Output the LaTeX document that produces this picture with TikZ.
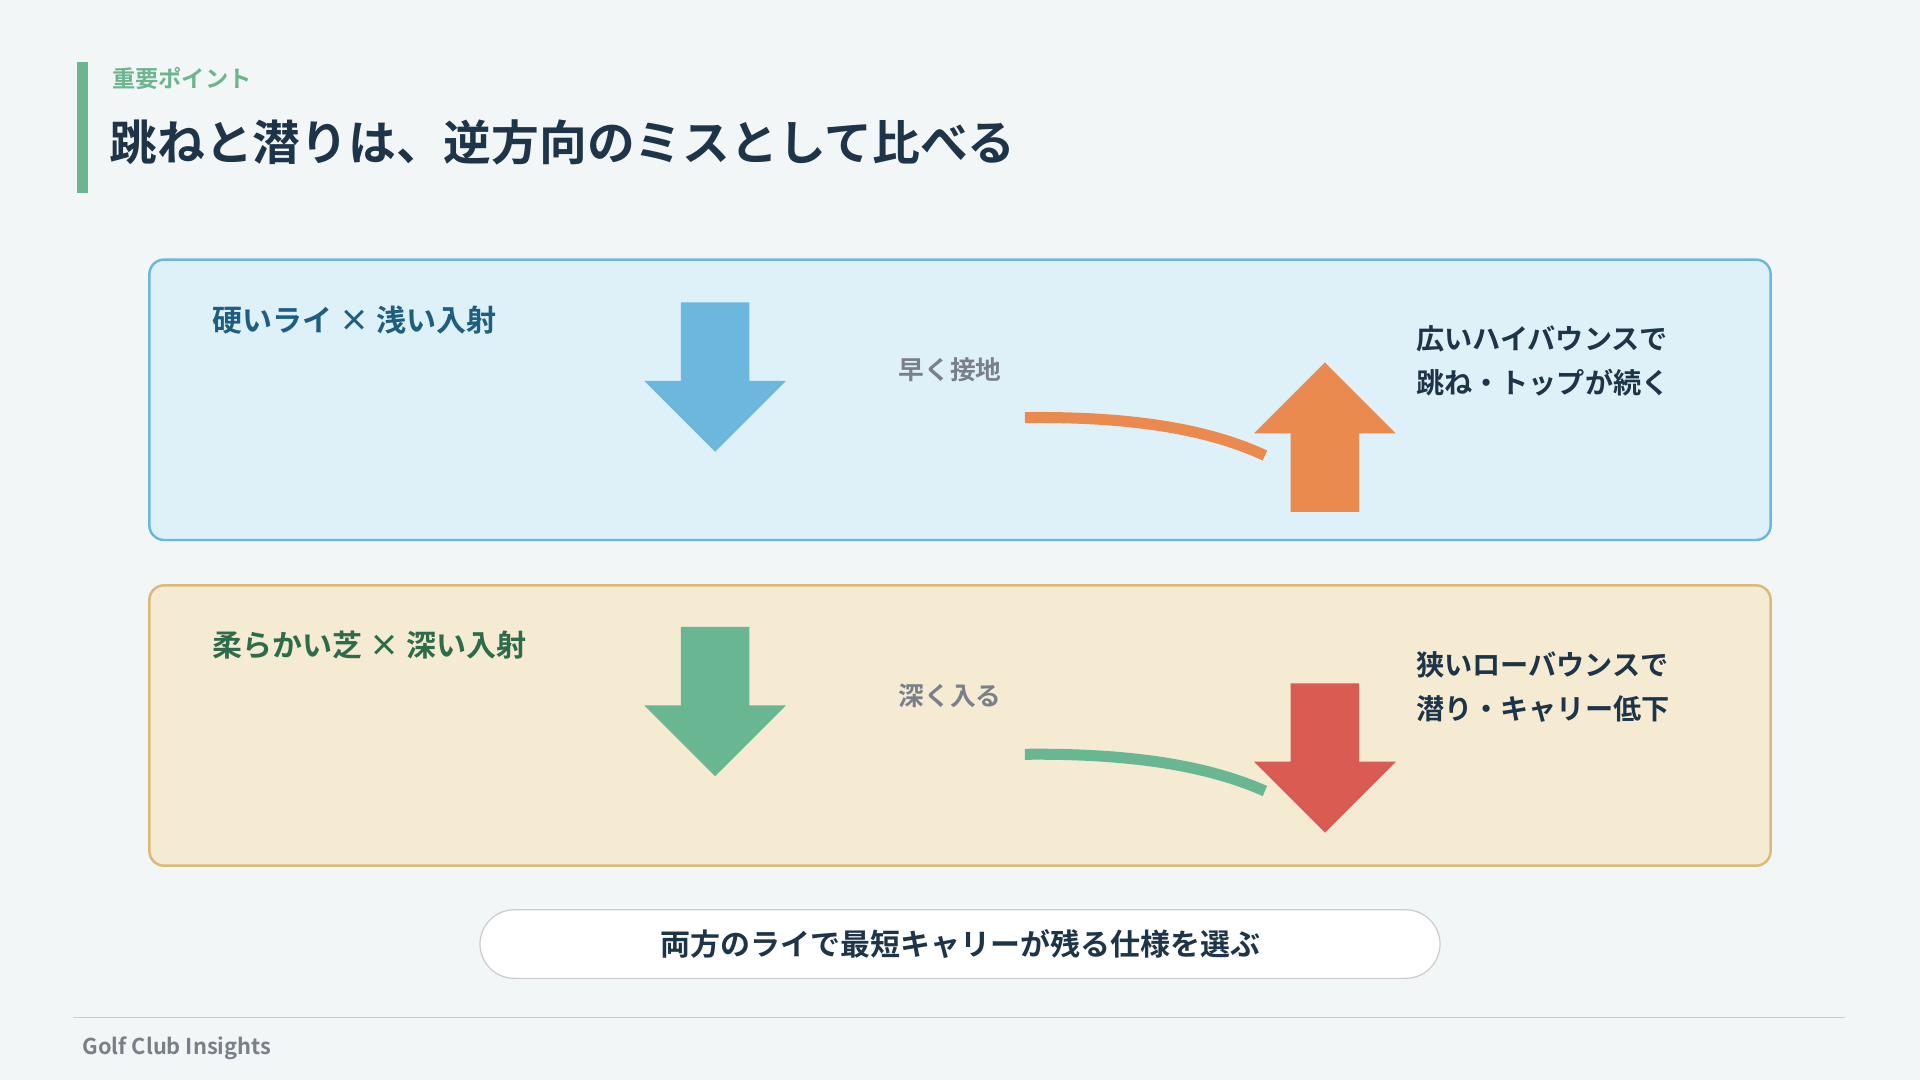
\documentclass[tikz,border=0pt]{standalone}
\usepackage{fontspec}
\setmainfont{Noto Sans CJK JP}[BoldFont={* Bold}]
\usetikzlibrary{positioning}
\definecolor{bg}{HTML}{F2F6F7}
\definecolor{accent}{HTML}{6DB58F}
\definecolor{navy}{HTML}{1E3448}
\definecolor{hardfill}{HTML}{DFF1F8}
\definecolor{hardline}{HTML}{6BB7DD}
\definecolor{softfill}{HTML}{F5EAD2}
\definecolor{softline}{HTML}{DDB877}
\definecolor{orangearr}{HTML}{EA8A4F}
\definecolor{greenarr}{HTML}{69B792}
\definecolor{redarr}{HTML}{D95B52}
\definecolor{graytext}{HTML}{7A8089}
\definecolor{hardtext}{HTML}{1E5E80}
\definecolor{softtext}{HTML}{2E6B4A}
\tikzset{
  panel/.style={rounded corners=12pt,line width=2pt},
  heading/.style={anchor=west,font=\bfseries\fontsize{24.5}{28}\selectfont},
  result/.style={anchor=west,align=left,text=navy,font=\bfseries\fontsize{23}{36}\selectfont},
  cue/.style={text=graytext,font=\bfseries\fontsize{21}{24}\selectfont},
  swing/.style={line width=9pt},
}
\newcommand{\downarr}[3]{% x center, top y, colour
  \fill[#3] (#1-28,#2) -- (#1+28,#2) -- (#1+28,#2+64) -- (#1+58,#2+64)
    -- (#1,#2+122) -- (#1-58,#2+64) -- (#1-28,#2+64) -- cycle;}
\begin{document}
\begin{tikzpicture}[x=1pt,y=-1pt]
\fill[bg] (0,0) rectangle (1568,882);
\useasboundingbox (0,0) rectangle (1568,882);
% title
\fill[accent] (63,51) rectangle (72,158);
\node[anchor=west,text=accent,font=\bfseries\fontsize{19}{22}\selectfont] (kicker) at (88,64) {重要ポイント};
\node[anchor=west,text=navy,font=\bfseries\fontsize{39}{44}\selectfont] (title) at (86,116) {跳ねと潜りは、逆方向のミスとして比べる};
% hard lie
\draw[panel,fill=hardfill,draw=hardline] (122,212) rectangle (1446,441);
\node[heading,text=hardtext] (hard) at (170,261) {硬いライ × 浅い入射};
\downarr{584}{247}{hardline}
\node[cue] (early) at (776,302) {早く接地};
\coordinate (h1) at (837,341);
\coordinate (h2) at (1033,372);
\draw[swing,orangearr] (h1) .. controls (930,340) and (990,352) .. (h2);
\fill[orangearr] (1054,418) -- (1110,418) -- (1110,354) -- (1140,354) -- (1082,296)
  -- (1024,354) -- (1054,354) -- cycle;
\node[result] (bounce) at (1153,295) {広いハイバウンスで\\跳ね・トップが続く};
% soft lie
\draw[panel,fill=softfill,draw=softline] (122,478) rectangle (1446,707);
\node[heading,text=softtext] (soft) at (170,527) {柔らかい芝 × 深い入射};
\downarr{584}{512}{greenarr}
\node[cue] (deep) at (776,568) {深く入る};
\coordinate (s1) at (837,616);
\coordinate (s2) at (1033,646);
\draw[swing,greenarr] (s1) .. controls (930,615) and (990,627) .. (s2);
\downarr{1082}{558}{redarr}
\node[result] (dig) at (1153,561) {狭いローバウンスで\\潜り・キャリー低下};
% summary
\draw[fill=white,draw=black!20,line width=1pt,rounded corners=28pt] (392,743) rectangle (1176,799);
\node[text=navy,font=\bfseries\fontsize{24.5}{28}\selectfont] (summary) at (784,771) {両方のライで最短キャリーが残る仕様を選ぶ};
% footer
\draw[black!20,line width=1pt] (60,831) -- (1507,831);
\node[anchor=west,text=graytext,font=\bfseries\fontsize{17.8}{20}\selectfont] (brand) at (64,856) {Golf Club Insights};
\end{tikzpicture}
\end{document}
